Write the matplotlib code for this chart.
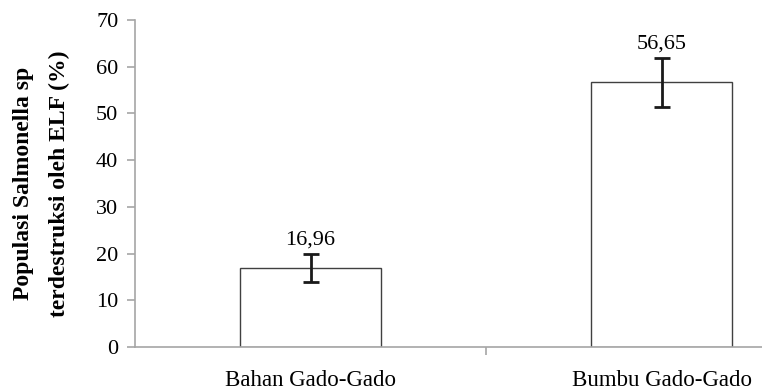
import matplotlib.pyplot as plt

categories = ['Bahan Gado-Gado', 'Bumbu Gado-Gado']
values = [16.96, 56.65]
errors = [3.0, 5.2]
value_labels = ['16,96', '56,65']

plt.rcParams['font.family'] = ['Liberation Serif', 'DejaVu Serif']

fig = plt.figure(figsize=(7.62, 3.9), dpi=100)
ax = fig.add_axes([135 / 762, 43 / 390, 702 / 762, 327 / 390])

x = list(range(len(categories)))
ax.bar(x, values, width=0.4, color='white', edgecolor='#404040', linewidth=1.0)
ax.errorbar(x, values, yerr=errors, fmt='none', ecolor='#1a1a1a',
            elinewidth=2, capsize=6, capthick=2)

for xi, v, e, lab in zip(x, values, errors, value_labels):
    ax.text(xi, v + e + 1.0, lab, ha='center', va='bottom', fontsize=16)

ax.set_xlim(-0.5, 1.5)
ax.set_ylim(0, 70)
ax.set_yticks(range(0, 71, 10))
ax.set_xticks([0.5])
ax.set_xticklabels([])
for xi, c in zip(x, categories):
    ax.text(xi, -4.9, c, ha='center', va='top', fontsize=16.5)

for s in ['top', 'right']:
    ax.spines[s].set_visible(False)
for s in ['left', 'bottom']:
    ax.spines[s].set_color('#a6a6a6')
    ax.spines[s].set_linewidth(1.2)
ax.tick_params(axis='y', colors='#a6a6a6', labelcolor='black', labelsize=16,
               length=6, width=1.2, pad=6)
ax.tick_params(axis='x', colors='#a6a6a6', length=6, width=1.2)

ax.set_ylabel('Populasi Salmonella sp\nterdestruksi oleh ELF (%)',
              fontsize=17, fontweight='bold', labelpad=19, linespacing=1.9)

fig.savefig('out.png', dpi=100)
